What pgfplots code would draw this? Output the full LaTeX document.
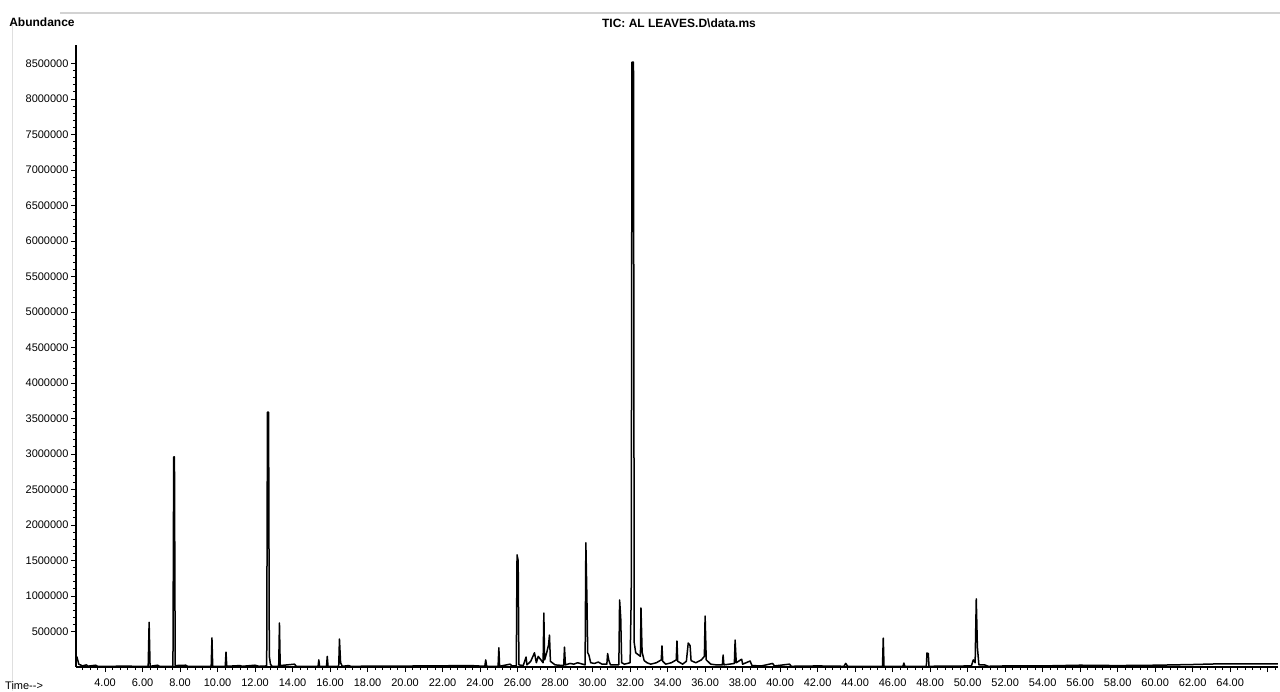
\documentclass[border=0pt]{standalone}
\usepackage{fontspec}
\setmainfont{Liberation Sans}
\usepackage{pgfplots}
\pgfplotsset{compat=1.18}
\begin{document}
\begin{tikzpicture}
\useasboundingbox (0,0) rectangle (1280pt,691pt);
\draw[gray!35, line width=1.5pt] (60pt,678pt) -- (1280pt,678pt);
\draw[gray!25, line width=1pt] (12pt,0pt) -- (12pt,670pt);
\begin{axis}[
  at={(76pt,24pt)}, anchor=south west,
  scale only axis, width=1202pt, height=622pt,
  xmin=2.45, xmax=66.55, ymin=0, ymax=8760000,
  axis lines*=left,
  axis line style={line width=1.3pt, black},
  tick align=outside,
  major tick length=5pt, minor tick length=3pt,
  tick style={black, line width=0.8pt},
  xtick={4,6,...,66},
  minor xtick={2.8,3.2,...,66.4},
  xticklabel={\ifdim\tick pt<65pt\pgfmathprintnumber[fixed,fixed zerofill,precision=2]{\tick}\fi},
  ytick={500000,1000000,1500000,2000000,2500000,3000000,3500000,4000000,4500000,5000000,5500000,6000000,6500000,7000000,7500000,8000000,8500000},
  yticklabels={500000,1000000,1500000,2000000,2500000,3000000,3500000,4000000,4500000,5000000,5500000,6000000,6500000,7000000,7500000,8000000,8500000},
  minor y tick num=4,
  scaled y ticks=false,
  /pgf/number format/assume math mode=true,
  ticklabel style={font=\fontsize{11}{12}\selectfont},
  xticklabel style={yshift=-3pt},
  yticklabel style={xshift=1pt},
  clip=false,
]
\addplot[black, line width=1.5pt, line join=round] coordinates {
(2.45,150000)(2.5,140000)(2.6,40000)(2.8,15000)(3.0,30000)(3.1,12000)(3.5,25000)(3.6,10000)(4.5,10000)(5.0,14000)(5.5,10000)
(6.30,10000)(6.35,630000)(6.40,10000)
(6.8,25000)(6.9,10000)
(7.62,10000)(7.66,2960000)(7.70,2960000)(7.74,20000)
(8.3,25000)(8.4,10000)
(9.66,10000)(9.70,410000)(9.74,10000)
(10.41,10000)(10.45,210000)(10.49,10000)
(11.2,20000)(11.3,10000)(12.0,25000)(12.2,10000)
(12.62,15000)(12.66,3590000)(12.72,3590000)(12.76,150000)(12.82,40000)(12.9,10000)
(13.26,10000)(13.30,620000)(13.34,20000)
(14.1,40000)(14.2,10000)
(15.36,10000)(15.40,100000)(15.44,10000)
(15.81,10000)(15.85,150000)(15.89,10000)
(16.46,10000)(16.50,394000)(16.56,60000)(16.65,10000)
(17.0,20000)(17.1,10000)(19.0,12000)(21.0,15000)(23.5,20000)
(24.25,10000)(24.30,100000)(24.35,10000)
(24.96,10000)(25.00,270000)(25.04,10000)
(25.6,40000)(25.7,15000)
(25.93,15000)(25.97,1580000)(26.03,1500000)(26.07,30000)
(26.3,20000)(26.45,140000)(26.5,30000)(26.7,80000)(26.9,200000)(27.0,60000)(27.1,150000)
(27.36,60000)(27.40,760000)(27.44,100000)(27.55,200000)(27.65,310000)(27.70,450000)(27.75,80000)
(28.0,30000)(28.46,20000)(28.50,280000)(28.55,30000)
(28.8,50000)(29.0,40000)(29.2,60000)
(29.60,30000)(29.64,1750000)(29.70,915000)(29.74,200000)(29.8,170000)(29.9,60000)
(30.1,50000)(30.3,70000)(30.5,40000)(30.76,40000)(30.80,190000)(30.86,100000)(30.95,30000)
(31.40,30000)(31.44,944000)(31.50,690000)(31.55,60000)(31.7,40000)
(32.0,60000)(32.06,1000000)(32.10,8520000)(32.18,8520000)(32.22,340000)(32.3,200000)
(32.55,150000)(32.58,831000)(32.64,210000)(32.75,90000)(32.9,60000)(33.1,40000)(33.4,60000)
(33.66,100000)(33.70,296000)(33.74,80000)(33.9,40000)(34.2,60000)
(34.46,100000)(34.50,366000)(34.54,80000)(34.8,40000)(35.0,80000)
(35.10,338000)(35.20,300000)(35.25,90000)(35.5,60000)(35.8,100000)
(35.96,150000)(36.00,718000)(36.06,100000)(36.3,40000)(36.6,30000)
(36.92,30000)(36.96,170000)(37.0,30000)(37.3,40000)
(37.56,50000)(37.60,380000)(37.66,60000)(37.95,110000)(38.0,40000)(38.4,84000)(38.5,20000)
(39.0,15000)(39.6,50000)(39.7,15000)(40.5,40000)(40.6,10000)
(42.0,15000)(43.4,10000)(43.5,50000)(43.6,10000)
(45.46,10000)(45.50,408000)(45.54,10000)
(46.55,10000)(46.60,56000)(46.65,10000)
(47.80,10000)(47.83,197000)(47.90,190000)(47.94,10000)
(50.2,15000)(50.3,100000)(50.4,60000)(50.46,958000)(50.52,280000)(50.6,30000)(50.9,30000)(51.1,10000)
(52,15000)(54,15000)(56,25000)(58,20000)(60,25000)(62,35000)(63.5,45000)(66.55,45000)
};
\end{axis}
\node[font=\fontsize{12}{13}\selectfont\bfseries, inner sep=0pt] at (42pt,669pt) {Abundance};
\node[font=\fontsize{12}{13}\selectfont\bfseries, inner sep=0pt] at (679pt,668pt) {TIC: AL LEAVES.D\textbackslash data.ms};
\node[font=\fontsize{11}{12}\selectfont, inner sep=0pt, anchor=west] at (5pt,5pt) {Time{-}{-}>};
\end{tikzpicture}
\end{document}
